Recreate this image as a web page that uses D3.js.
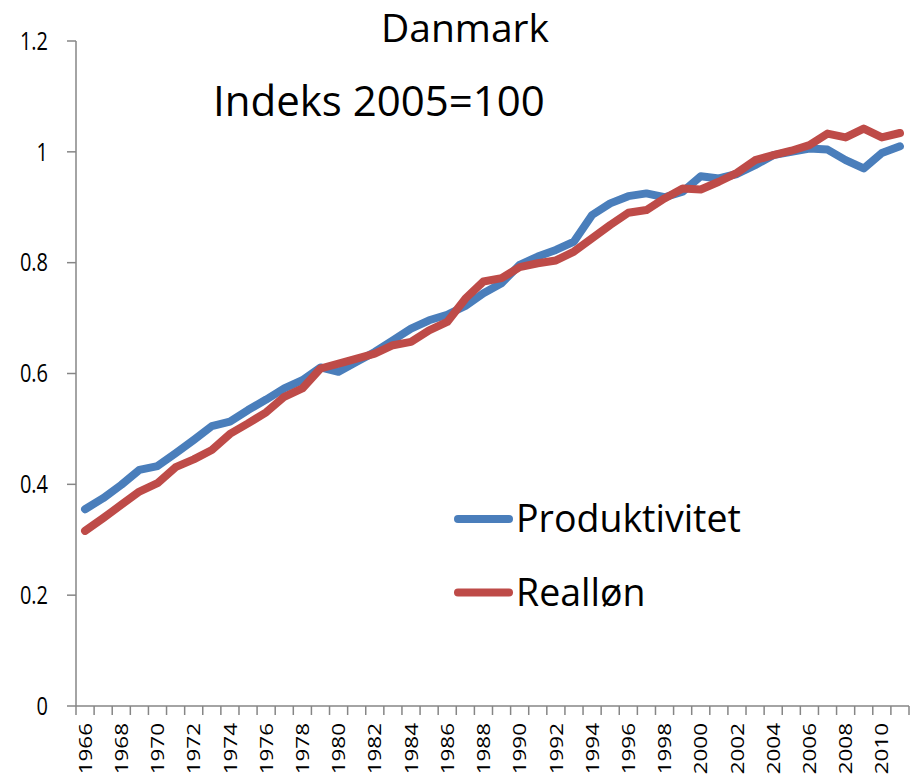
<!DOCTYPE html>
<html>
<head>
<meta charset="utf-8">
<script src="https://cdn.jsdelivr.net/npm/d3@7"></script>
<style>
  body { margin: 0; background: #fff; }
  svg text { font-family: "Open Sans", "Noto Sans", sans-serif; fill: #000; }
</style>
</head>
<body>
<div id="chart"></div>
<script>
// år 1966-2011
const years = [1966,1967,1968,1969,1970,1971,1972,1973,1974,1975,1976,1977,1978,1979,1980,1981,1982,1983,1984,1985,1986,1987,1988,1989,1990,1991,1992,1993,1994,1995,1996,1997,1998,1999,2000,2001,2002,2003,2004,2005,2006,2007,2008,2009,2010,2011];

const produktivitet = [0.355,0.375,0.399,0.426,0.433,0.456,0.480,0.505,0.513,0.534,0.553,0.573,0.588,0.611,0.603,0.621,0.639,0.660,0.681,0.696,0.706,0.722,0.745,0.763,0.796,0.811,0.823,0.838,0.886,0.907,0.920,0.925,0.918,0.928,0.956,0.952,0.960,0.976,0.994,1.000,1.006,1.004,0.985,0.970,0.998,1.010];

const realloen = [0.316,0.339,0.363,0.387,0.402,0.431,0.445,0.462,0.491,0.510,0.530,0.558,0.573,0.609,0.618,0.627,0.636,0.651,0.657,0.678,0.693,0.735,0.766,0.772,0.792,0.799,0.804,0.820,0.844,0.868,0.890,0.895,0.916,0.934,0.932,0.946,0.962,0.985,0.994,1.002,1.012,1.033,1.026,1.042,1.026,1.034];

const yTicks = [0, 0.2, 0.4, 0.6, 0.8, 1, 1.2];
const xLabels = years.filter((d, i) => i % 2 == 0);

const series = [
  {name: "Produktivitet", values: produktivitet, color: "#4a7ebb"},
  {name: "Realløn", values: realloen, color: "#be4b48"}
];

const width = 913, height = 778;
const axisColor = "#868686";

const svg = d3.select("#chart").append("svg")
  .attr("width", width)
  .attr("height", height);

const x = d3.scaleBand()
  .domain(years)
  .range([76, 909]);

const y = d3.scaleLinear()
  .domain([0, 1.2])
  .range([706, 41]);

const bw = x.bandwidth();

// y-akse
svg.append("line")
  .attr("x1", 76).attr("x2", 76)
  .attr("y1", y(1.2)).attr("y2", y(0))
  .attr("stroke", axisColor).attr("stroke-width", 1.5);

svg.selectAll(".ytick")
  .data(yTicks)
  .enter()
  .append("line")
  .attr("x1", 67).attr("x2", 76)
  .attr("y1", d => y(d)).attr("y2", d => y(d))
  .attr("stroke", axisColor).attr("stroke-width", 1.5);

svg.selectAll(".ylab")
  .data(yTicks)
  .enter()
  .append("text")
  .attr("transform", d => "translate(48," + y(d) + ") scale(1,1.25)")
  .attr("dy", "0.35em")
  .attr("text-anchor", "end")
  .style("font-size", "20px")
  .text(d => d3.format("~g")(d));

// x-akse
svg.append("line")
  .attr("x1", 76).attr("x2", 909)
  .attr("y1", y(0)).attr("y2", y(0))
  .attr("stroke", axisColor).attr("stroke-width", 1.5);

svg.selectAll(".xtick")
  .data(years.concat([null]))
  .enter()
  .append("line")
  .attr("x1", (d, i) => 76 + i * bw).attr("x2", (d, i) => 76 + i * bw)
  .attr("y1", y(0)).attr("y2", y(0) + 9)
  .attr("stroke", axisColor).attr("stroke-width", 1.5);

// årstal, drejet - skal kunne være i billedet
svg.selectAll(".xlab")
  .data(xLabels)
  .enter()
  .append("text")
  .attr("transform", d => "translate(" + (x(d) + bw / 2) + ",723) rotate(-90) scale(1.18,1)")
  .attr("dy", "0.35em")
  .attr("text-anchor", "end")
  .style("font-size", "19px")
  .text(d => d);

// linjer
const line = d3.line()
  .x((d, i) => x(years[i]) + bw / 2)
  .y(d => y(d));

svg.selectAll(".serie")
  .data(series)
  .enter()
  .append("path")
  .attr("d", d => line(d.values))
  .attr("fill", "none")
  .attr("stroke", d => d.color)
  .attr("stroke-width", 8)
  .attr("stroke-linejoin", "round")
  .attr("stroke-linecap", "round");

// forklaring
const legend = svg.selectAll(".legend")
  .data(series)
  .enter()
  .append("g")
  .attr("transform", (d, i) => "translate(0," + (519 + i * 73.5) + ")");

legend.append("line")
  .attr("x1", 458).attr("x2", 509)
  .attr("stroke", d => d.color)
  .attr("stroke-width", 8)
  .attr("stroke-linecap", "round");

legend.append("text")
  .attr("x", 516)
  .attr("y", 13)
  .style("font-size", "37.5px")
  .text(d => d.name);

// titler
svg.append("text")
  .attr("x", 465).attr("y", 42)
  .attr("text-anchor", "middle")
  .style("font-size", "39px")
  .text("Danmark");

svg.append("text")
  .attr("x", 213).attr("y", 116)
  .style("font-size", "42px")
  .text("Indeks 2005=100");
</script>
</body>
</html>
